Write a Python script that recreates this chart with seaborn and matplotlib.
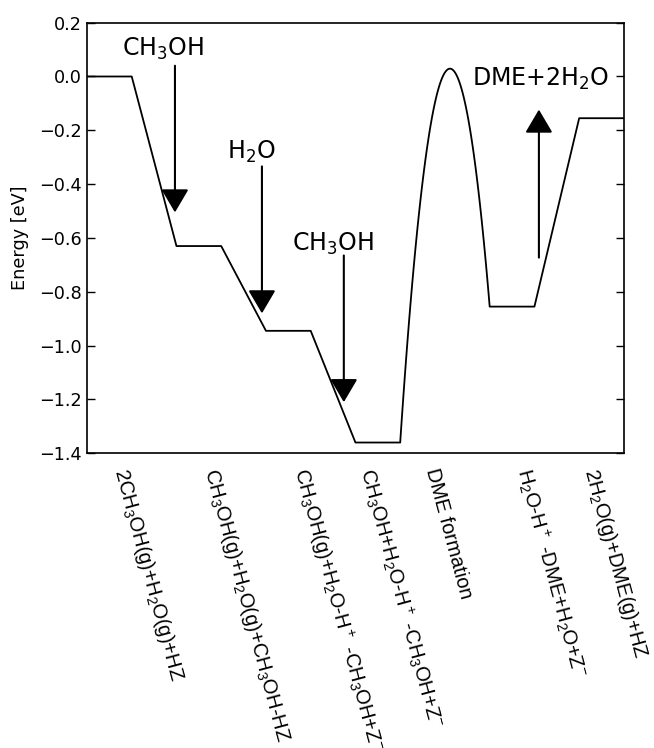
import numpy as np
import pandas as pd
import matplotlib
matplotlib.use("Agg")
import matplotlib.pyplot as plt
import seaborn as sns

# ---- data ----
stage_start = [0, 2, 4, 6, 9, 11]
stage_end = [1, 3, 5, 7, 10, 12]
stage_energy = [0.0, -0.63, -0.945, -1.36, -0.855, -0.155]
ts_x = 8.0
ts_energy = 0.015

tick_pos = [0.5, 2.5, 4.5, 6.0, 7.5, 9.5, 11.0]
tick_labels = [
    r"2CH$_3$OH(g)+H$_2$O(g)+HZ",
    r"CH$_3$OH(g)+H$_2$O(g)+CH$_3$OH-HZ",
    r"CH$_3$OH(g)+H$_2$O-H$^+$ -CH$_3$OH+Z$^{-}$",
    r"CH$_3$OH+H$_2$O-H$^+$ -CH$_3$OH+Z$^{-}$",
    r"DME formation",
    r"H$_2$O-H$^+$ -DME+H$_2$O+Z$^{-}$",
    r"2H$_2$O(g)+DME(g)+HZ",
]

ann_text = [r"CH$_3$OH", r"H$_2$O", r"CH$_3$OH", r"DME+2H$_2$O"]
ann_text_x = [0.78, 3.13, 4.58, 8.6]
ann_text_y = [0.078, -0.305, -0.647, -0.033]
arrow_x = [1.966, 3.91, 5.74, 10.1]
arrow_start_y = [0.04, -0.334, -0.665, -0.673]
arrow_tip_y = [-0.505, -0.88, -1.21, -0.123]

y_ticks = [-1.4, -1.2, -1.0, -0.8, -0.6, -0.4, -0.2, 0.0, 0.2]

# ---- build profile ----
xs, ys = [], []
for i, (s, e, en) in enumerate(zip(stage_start, stage_end, stage_energy)):
    xs += [s, e]
    ys += [en, en]
    if i == 3:
        nxt = 4
        coef = np.polyfit([e, ts_x, stage_start[nxt]],
                          [en, ts_energy, stage_energy[nxt]], 2)
        cx = np.linspace(e, stage_start[nxt], 80)[1:-1]
        xs += list(cx)
        ys += list(np.polyval(coef, cx))
df = pd.DataFrame({"x": xs, "E": ys})

sns.set_style("white")
plt.rcParams.update({
    "text.color": "black",
    "axes.labelcolor": "black",
    "xtick.color": "black",
    "ytick.color": "black",
    "axes.edgecolor": "black",
    "mathtext.fontset": "dejavusans",
})

fig = plt.figure(figsize=(6.54, 7.48), dpi=100)
ax = fig.add_axes([0.133, 0.394, 0.821, 0.5757])

sns.lineplot(data=df, x="x", y="E", sort=False, color="black", lw=1.3, ax=ax)

for tx, ty, t in zip(ann_text_x, ann_text_y, ann_text):
    ax.text(tx, ty, t, fontsize=17, ha="left", va="baseline",
            family="DejaVu Sans", color="black")
for axx, y0, y1 in zip(arrow_x, arrow_start_y, arrow_tip_y):
    ax.annotate("", xy=(axx, y1), xytext=(axx, y0),
                arrowprops=dict(arrowstyle="-|>,head_length=1.0,head_width=0.59",
                                mutation_scale=14.4, lw=1.5, color="black",
                                shrinkA=0, shrinkB=0))

ax.set_xlim(0, 12)
ax.set_ylim(-1.4, 0.2)
ax.set_yticks(y_ticks)
ax.set_yticklabels([f"{v:.1f}".replace("-", "\u2212") for v in y_ticks],
                   fontsize=12.7, family="DejaVu Sans", color="black")
ax.set_xticks(tick_pos)
ax.set_xticklabels(tick_labels, rotation=-75, ha="left", va="top",
                   fontsize=14.5, family="Liberation Sans", color="black")
plt.rcParams["mathtext.rm"] = "Liberation Sans"
plt.rcParams["mathtext.it"] = "Liberation Sans:italic"
plt.rcParams["mathtext.bf"] = "Liberation Sans:bold"
plt.rcParams["mathtext.sf"] = "Liberation Sans"
for lab in ax.get_xticklabels():
    lab.set_math_fontfamily("custom")

ax.tick_params(axis="x", length=0, pad=9)
ax.tick_params(axis="y", direction="in", length=6, width=1, left=True,
               right=True, pad=4, labelsize=12.7)
ax.set_xlabel("")
ax.set_ylabel("Energy [eV]", fontsize=12.7, family="DejaVu Sans", color="black")
ax.yaxis.set_label_coords(-0.108, 0.5)
for sp in ax.spines.values():
    sp.set_color("black")
    sp.set_linewidth(1.2)

fig.savefig("out.png", dpi=100)
